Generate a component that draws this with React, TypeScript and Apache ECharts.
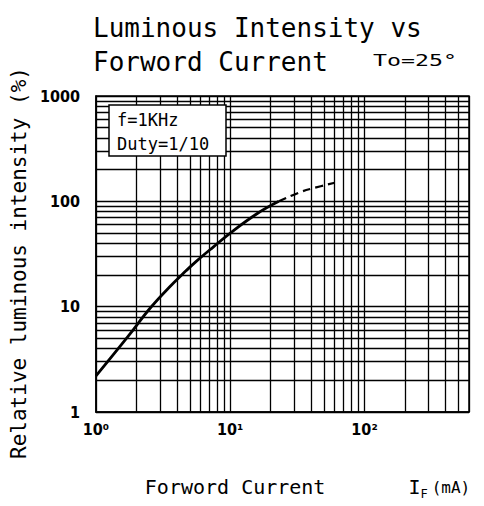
import React, { useEffect, useRef } from 'react';
import * as echarts from 'echarts';

// ---- texts ----
const titleLines = ['Luminous Intensity vs', 'Forword Current'];
const conditionText = 'To=25°';
const noteLines = ['f=1KHz', 'Duty=1/10'];
const xAxisNameMain = 'Forword Current';
const xAxisSymbol = 'I';
const xAxisSubscript = 'F';
const xAxisUnit = '(mA)';
const yAxisName = 'Relative luminous intensity (%)';

// ---- tick labels ----
const xTickValues = [1, 10, 100];
const xTickLabels = ['10⁰', '10¹', '10²'];
const yTickValues = [1, 10, 100, 1000];
const yTickLabels = ['1', '10', '100', '1000'];

// ---- minor grid lines (log grid) ----
const xMinorGrid = [2, 3, 4, 5, 6, 7, 8, 9, 20, 30, 40, 50, 60, 70, 80, 90, 200, 300, 400, 500];
const yMinorGrid = [2, 3, 4, 5, 6, 7, 8, 9, 20, 30, 40, 50, 60, 70, 80, 90, 200, 300, 400, 500, 600, 700, 800, 900];

// ---- curve data ----
const solidCurrent = [1, 1.75, 2.5, 3.5, 4.7, 5.5, 7.5, 10, 16, 23];
const solidIntensity = [2.2, 5.3, 9.5, 15.2, 22, 26.5, 37, 50, 77, 100];
const dashedCurrent = [23, 33, 42, 60];
const dashedIntensity = [100, 122, 134, 150];

const MONO = "'DejaVu Sans Mono', monospace";
const NUM = "'Liberation Sans Narrow', 'DejaVu Sans Condensed', 'Liberation Sans', 'DejaVu Sans', sans-serif";

function tickLabel(values: number[], labels: string[], v: number): string {
  for (let i = 0; i < values.length; i++) {
    if (Math.abs(values[i] - v) < 1e-6 * values[i]) return labels[i];
  }
  return '';
}

export default function App() {
  const ref = useRef<HTMLDivElement>(null);
  useEffect(() => {
    if (!ref.current) return;
    const chart = echarts.init(ref.current, null, { renderer: 'svg' });
    const gridLine = { color: '#000', width: 1.3 };
    const option: any = {
      animation: false,
      backgroundColor: '#fff',
      title: {
        text: titleLines.join('\n'),
        left: 93,
        top: 11,
        padding: 0,
        textStyle: {
          fontFamily: MONO,
          fontSize: 26,
          fontWeight: 'normal',
          lineHeight: 34,
          color: '#000',
        },
      },
      grid: {
        left: 96,
        top: 96,
        right: 15,
        bottom: 94,
        show: true,
        borderColor: '#000',
        borderWidth: 1.5,
      },
      xAxis: {
        type: 'log',
        logBase: 10,
        min: 1,
        max: 600,
        axisLine: { show: true, lineStyle: { color: '#000', width: 1.5 } },
        axisTick: { show: false },
        splitLine: { show: true, lineStyle: gridLine },
        axisLabel: {
          margin: 9,
          color: '#000',
          fontFamily: NUM,
          fontSize: 16,
          fontWeight: 'bold',
          formatter: (v: number) => tickLabel(xTickValues, xTickLabels, v),
        },
        name: `{a|${xAxisNameMain}}{g| }{a|${xAxisSymbol}}{s|${xAxisSubscript}}{m|${xAxisUnit}}`,
        nameLocation: 'middle',
        nameGap: 62,
        nameTextStyle: {
          padding: [0, 0, 0, 50],
          rich: {
            a: { fontFamily: MONO, fontSize: 20, color: '#000', lineHeight: 26 },
            g: { width: 83, fontSize: 20, lineHeight: 26 },
            s: { fontFamily: MONO, fontSize: 12, color: '#000', lineHeight: 10, verticalAlign: 'bottom' },
            m: { fontFamily: MONO, fontSize: 16, color: '#000', lineHeight: 26, padding: [0, 0, 0, 4] },
          },
        },
      },
      yAxis: {
        type: 'log',
        logBase: 10,
        min: 1,
        max: 1000,
        axisLine: { show: true, lineStyle: { color: '#000', width: 1.5 } },
        axisTick: { show: false },
        splitLine: { show: true, lineStyle: gridLine },
        axisLabel: {
          margin: 16,
          color: '#000',
          fontFamily: NUM,
          fontSize: 16,
          fontWeight: 'bold',
          formatter: (v: number) => tickLabel(yTickValues, yTickLabels, v),
        },
        name: yAxisName,
        nameLocation: 'middle',
        nameRotate: 90,
        nameGap: 62,
        nameTextStyle: {
          fontFamily: MONO,
          fontSize: 21,
          color: '#000',
          padding: [0, 18, 0, 0],
        },
      },
      series: [
        {
          type: 'line',
          name: 'grid',
          data: [],
          silent: true,
          markLine: {
            silent: true,
            symbol: ['none', 'none'],
            label: { show: false },
            lineStyle: { color: '#000', width: 1.3, type: 'solid' },
            emphasis: { disabled: true },
            data: [
              ...xMinorGrid.map((v) => ({ xAxis: v })),
              ...yMinorGrid.map((v) => ({ yAxis: v })),
            ],
          },
          z: 1,
        },
        {
          type: 'line',
          name: 'solid',
          data: solidCurrent.map((x, i) => [x, solidIntensity[i]]),
          smooth: 0.4,
          showSymbol: false,
          lineStyle: { color: '#000', width: 2.8 },
          z: 5,
        },
        {
          type: 'line',
          name: 'dashed',
          data: dashedCurrent.map((x, i) => [x, dashedIntensity[i]]),
          smooth: 0.4,
          showSymbol: false,
          lineStyle: { color: '#000', width: 2.2, type: [8, 5] },
          z: 5,
        },
      ],
      graphic: [
        {
          type: 'text',
          x: 373,
          y: 54,
          scaleX: 1.55,
          z: 100,
          style: {
            text: conditionText,
            fontFamily: MONO,
            fontSize: 15,
            fill: '#000',
            verticalAlign: 'top',
          },
        },
        {
          type: 'group',
          z: 100,
          children: [
            {
              type: 'rect',
              shape: { x: 109, y: 105, width: 117, height: 51 },
              style: { fill: '#fff', stroke: '#000', lineWidth: 1.5 },
              z: 100,
            },
            {
              type: 'text',
              x: 117,
              y: 120,
              z: 101,
              style: { text: noteLines[0], fontFamily: MONO, fontSize: 17, fill: '#000', verticalAlign: 'middle' },
            },
            {
              type: 'text',
              x: 117,
              y: 144,
              z: 101,
              style: { text: noteLines[1], fontFamily: MONO, fontSize: 17, fill: '#000', verticalAlign: 'middle' },
            },
          ],
        },
      ],
    };
    chart.setOption(option);
    return () => chart.dispose();
  }, []);
  return (
    <div
      ref={ref}
      style={{ position: 'fixed', left: 0, top: 0, width: 484, height: 506, background: '#fff' }}
    />
  );
}
